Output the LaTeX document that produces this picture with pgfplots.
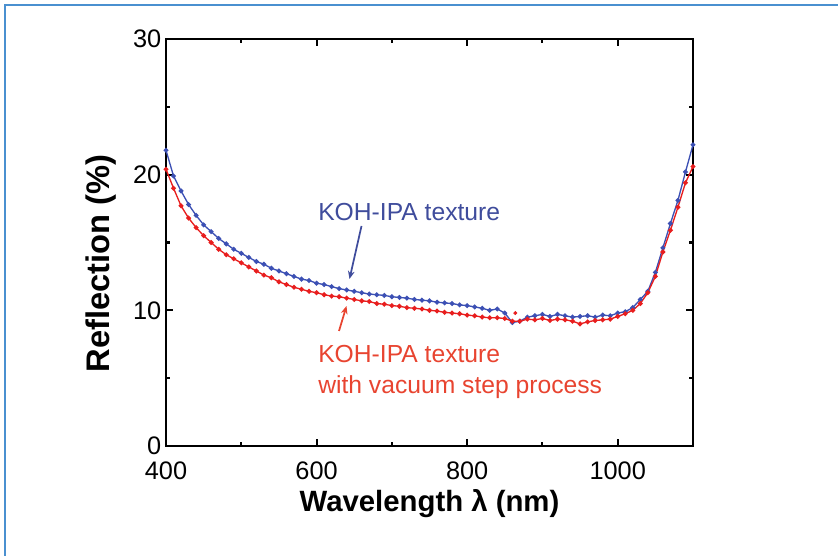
\documentclass[border=0pt]{standalone}
\usepackage{fontspec}
\setmainfont{Liberation Sans}
\usepackage{pgfplots}
\pgfplotsset{compat=1.18}
\usetikzlibrary{arrows.meta}

\definecolor{frameblue}{RGB}{74,144,208}
\definecolor{dotblue}{RGB}{60,80,180}
\definecolor{dotred}{RGB}{232,30,30}
\definecolor{txtblue}{RGB}{63,76,156}
\definecolor{txtred}{RGB}{232,68,48}

\begin{document}
\begin{tikzpicture}
\useasboundingbox (-124.5pt,-82.5pt) rectangle (504pt,334.5pt);
\begin{axis}[
    scale only axis,
    width=395.25pt,
    height=305.25pt,
    xmin=400, xmax=1100,
    ymin=0, ymax=30,
    xtick={400,600,800,1000},
    ytick={0,10,20,30},
    minor x tick num=1,
    minor y tick num=1,
    tick align=inside,
    major tick length=5pt,
    minor tick length=3pt,
    axis line style={line width=2pt},
    every tick/.style={black, line width=1.6pt},
    /pgf/number format/assume math mode=true,
    /pgf/number format/1000 sep={},
    ticklabel style={font=\fontsize{19}{19}\selectfont},
    xticklabel style={yshift=-8pt},
    xlabel={\textbf{Wavelength λ (nm)}},
    ylabel={\textbf{Reflection (\%)}},
    xlabel style={font=\fontsize{22}{22}\selectfont,
        at={([yshift=-49pt]axis description cs:0.5,0)}, anchor=base},
    ylabel style={font=\fontsize{24.5}{24.5}\selectfont,
        at={([xshift=-42pt,yshift=-15.75pt]axis description cs:0,0.5)}, anchor=base},
    clip=false,
]

% KOH-IPA texture
\addplot[color=dotblue, line width=1pt, mark=*, mark size=1.3pt] coordinates {
(400,21.8)(410,19.9)(420,18.8)(430,17.8)(440,17.0)(450,16.3)(460,15.8)(470,15.3)(480,14.9)(490,14.5)
(500,14.2)(510,13.9)(520,13.6)(530,13.4)(540,13.1)(550,12.9)(560,12.7)(570,12.5)(580,12.3)(590,12.2)
(600,12.0)(610,11.9)(620,11.75)(630,11.6)(640,11.5)(650,11.4)(660,11.3)(670,11.2)(680,11.15)(690,11.1)
(700,11.0)(710,10.95)(720,10.9)(730,10.8)(740,10.75)(750,10.7)(760,10.6)(770,10.55)(780,10.5)(790,10.4)
(800,10.35)(810,10.25)(820,10.15)(830,10.0)(840,10.1)(850,9.8)(860,9.1)(870,9.2)(880,9.5)(890,9.6)
(900,9.7)(910,9.55)(920,9.7)(930,9.6)(940,9.5)(950,9.55)(960,9.6)(970,9.5)(980,9.65)(990,9.6)
(1000,9.8)(1010,9.9)(1020,10.2)(1030,10.8)(1040,11.4)(1050,12.8)(1060,14.6)(1070,16.4)(1080,18.1)(1090,20.2)
(1100,22.2)
};

% KOH-IPA texture with vacuum step process
\addplot[color=dotred, line width=1pt, mark=*, mark size=1.3pt] coordinates {
(400,20.4)(410,19.0)(420,17.7)(430,16.8)(440,16.1)(450,15.5)(460,15.0)(470,14.5)(480,14.1)(490,13.8)
(500,13.5)(510,13.2)(520,12.9)(530,12.6)(540,12.4)(550,12.1)(560,11.9)(570,11.7)(580,11.55)(590,11.4)
(600,11.3)(610,11.15)(620,11.05)(630,11.0)(640,10.9)(650,10.8)(660,10.7)(670,10.65)(680,10.5)(690,10.45)
(700,10.35)(710,10.3)(720,10.2)(730,10.15)(740,10.1)(750,10.0)(760,9.95)(770,9.85)(780,9.8)(790,9.75)
(800,9.65)(810,9.6)(820,9.5)(830,9.45)(840,9.45)(850,9.4)(860,9.2)(870,9.2)(880,9.35)(890,9.3)
(900,9.4)(910,9.25)(920,9.35)(930,9.3)(940,9.2)(950,9.0)(960,9.15)(970,9.25)(980,9.3)(990,9.35)
(1000,9.55)(1010,9.75)(1020,10.0)(1030,10.5)(1040,11.3)(1050,12.5)(1060,14.3)(1070,15.9)(1080,17.6)(1090,19.4)
(1100,20.6)
};
\addplot[only marks, color=dotred, mark=*, mark size=1.3pt] coordinates {(864,9.8)};
\end{axis}

% annotations and frame, in pixel units of the reference
\begin{scope}[x=0.75pt, y=-0.75pt, shift={(-166,-446)}]
  \draw[frameblue, line width=1.5pt] (5,556) -- (5,5) -- (838,5);
  \node[anchor=base west, inner sep=0pt, text=txtblue, font=\fontsize{18.5}{18.5}\selectfont]
    at (318,221) {KOH-IPA texture};
  \draw[txtblue, line width=1.3pt, -{Stealth[length=6pt,width=5pt]}] (361.5,226) -- (349.5,279);
  \node[anchor=base west, inner sep=0pt, text=txtred, font=\fontsize{18.5}{18.5}\selectfont]
    at (318,363) {KOH-IPA texture};
  \node[anchor=base west, inner sep=0pt, text=txtred, font=\fontsize{18.5}{18.5}\selectfont]
    at (318,394) {with vacuum step process};
  \draw[txtred, line width=1.3pt, -{Stealth[length=6pt,width=5pt]}] (339,331) -- (346.5,306);
\end{scope}
\end{tikzpicture}
\end{document}
